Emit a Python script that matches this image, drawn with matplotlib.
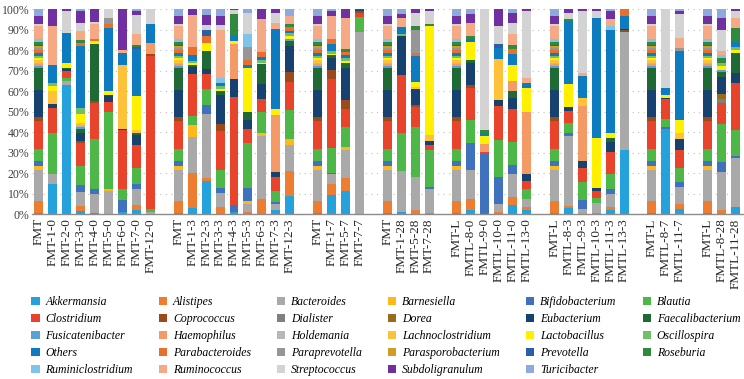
import matplotlib.pyplot as plt
import numpy as np
from matplotlib.patches import Patch

plt.rcParams['font.family'] = ['Liberation Serif', 'DejaVu Serif']

genera = ['Akkermansia', 'Alistipes', 'Bacteroides', 'Barnesiella', 'Bifidobacterium', 'Blautia',
          'Clostridium', 'Coprococcus', 'Dialister', 'Dorea', 'Eubacterium', 'Faecalibacterium',
          'Fusicatenibacter', 'Haemophilus', 'Holdemania', 'Lachnoclostridium', 'Lactobacillus',
          'Oscillospira', 'Others', 'Parabacteroides', 'Paraprevotella', 'Parasporobacterium',
          'Prevotella', 'Roseburia', 'Ruminiclostridium', 'Ruminococcus', 'Streptococcus',
          'Subdoligranulum', 'Turicibacter']

colors = ['#25A2DC', '#ED7D31', '#A9A9A9', '#FFB81C', '#3F71BF', '#4DB748',
          '#E8442C', '#9C4A1A', '#7F7F7F', '#9A6B1A', '#17416E', '#1F6A34',
          '#5AA0D6', '#F39A67', '#B8B8B8', '#FEC23A', '#FFF000',
          '#72BF6A', '#0C7BC0', '#E86F2C', '#969696', '#D69B26',
          '#2A5EA8', '#2F8A3E', '#7EC4E8', '#F5A985', '#D3D3D3',
          '#70309F', '#8EAADC']

groups = [
    ['FMT', 'FMT-1-0', 'FMT-2-0', 'FMT-3-0', 'FMT-4-0', 'FMT-5-0', 'FMT-6-0', 'FMT-7-0', 'FMT-12-0'],
    ['FMT', 'FMT-1-3', 'FMT-2-3', 'FMT-3-3', 'FMT-4-3', 'FMT-5-3', 'FMT-6-3', 'FMT-7-3', 'FMT-12-3'],
    ['FMT', 'FMT-1-7', 'FMT-5-7', 'FMT-7-7'],
    ['FMT', 'FMT-1-28', 'FMT-5-28', 'FMT-7-28'],
    ['FMT-L', 'FMTL-8-0', 'FMTL-9-0', 'FMTL-10-0', 'FMTL-11-0', 'FMTL-13-0'],
    ['FMT-L', 'FMTL-8-3', 'FMTL-9-3', 'FMTL-10-3', 'FMTL-11-3', 'FMTL-13-3'],
    ['FMT-L', 'FMTL-8-7', 'FMTL-11-7'],
    ['FMT-L', 'FMTL-8-28', 'FMTL-11-28'],
]

# donor profile (FMT / FMT-L bars), genus order
donor = [0.5, 6, 15, 2, 2.3, 6, 13.5, 2, 0, 0, 13, 11, 1, 1, 0.5, 1.2, 1.2, 1, 1.5, 1.5,
         0.8, 0.8, 0.5, 1.5, 1.5, 6.5, 0.7, 4.3, 3]

# recipient samples, in the order of groups (donor bars left out)
akkermansia = [14.7, 63, 1.5, 0.5, 0, 1, 2.2, 0,
               3, 16.3, 0, 1, 0, 0, 2, 9,
               9.3, 11.5, 0, 1, 0, 0,
               2.2, 0, 0, 4.3, 2, 3, 0, 0, 2, 31.2,
               41.7, 2.3, 0, 3.7]
alistipes = [0, 0, 2.5, 0, 0, 0, 2.1, 0,
             17, 1.6, 3.5, 0, 1, 7.3, 0, 12,
             5.2, 6.3, 0, 0, 2, 0.6,
             5.3, 0, 1, 4, 1.5, 1, 0, 0.5, 1.5, 0,
             0, 2.7, 1.8, 0]
bacteroides = [5, 1.5, 6.5, 9.5, 11.5, 0, 8, 1,
               17.5, 31, 6.5, 0, 3.8, 30.5, 3, 12.8,
               4.8, 13.6, 88.8, 20, 16, 11.8,
               14.3, 0, 4, 11.2, 4, 34, 2.7, 5, 6.2, 57.8,
               0, 8.2, 18.2, 23.5]
barnesiella = [0, 0, 0, 0, 1, 0, 0, 0,
               5.5, 0, 0, 0, 1.6, 1.5, 0, 3.2,
               0, 1.3, 0, 0, 0, 0,
               0, 0, 0, 0, 0, 0, 0, 0, 0, 0,
               0, 0, 0, 0]
bifidobacterium = [0, 0, 3.5, 2, 0, 6, 2.4, 0,
                   0, 4.4, 2.5, 3.5, 6.6, 0, 1, 0,
                   0.8, 0, 0, 0, 0, 0.8,
                   12.8, 29.5, 13, 4.7, 0, 1.5, 4, 0, 2.8, 0,
                   1, 2.3, 5.2, 1]
blautia = [20, 1.5, 9, 24.5, 37.5, 5.5, 8, 1.5,
           4.5, 8, 8.5, 0, 21.6, 10.5, 5.5, 14.4,
           12, 9.9, 7.5, 18.4, 24.8, 18.4,
           11.2, 0, 18, 11.2, 4.8, 5, 8.8, 2.5, 7, 0,
           3.8, 7.1, 17.8, 13]
clostridium = [12, 3.5, 11, 17.5, 5, 28.5, 11, 75,
               20.5, 7.2, 19, 52.5, 7.2, 6, 6.5, 13.6,
               33.5, 8.8, 2, 28.6, 9.6, 2.4,
               15.9, 0.8, 17, 16, 4, 6, 7.1, 3.5, 10.8, 0,
               9.6, 8.6, 10.3, 23]
coprococcus = [0, 0, 1, 1, 0, 0, 0, 0.8,
               0, 0, 3, 0, 0, 0, 0, 4.7,
               4.5, 4.6, 0.8, 0, 0.8, 0,
               1.6, 0, 0, 0, 0, 0, 0, 0, 0, 1,
               0, 0, 0, 0]
dialister = [0, 0, 0, 0, 0, 0, 0, 0,
             0, 0, 0, 0, 0, 0, 0, 0,
             0, 0, 0, 0, 0, 0,
             0, 0, 0, 0, 0, 0, 0, 0, 0, 0,
             0, 0, 1.6, 0]
dorea = [0, 0, 0, 0, 0, 0, 0, 0,
         0, 0, 0, 0, 0, 0, 0, 0,
         0, 0, 0, 0, 0, 0,
         0, 0, 0, 0, 0, 0, 0, 0, 0, 0,
         0, 0, 2.8, 0]
eubacterium = [2, 1, 4, 0, 3, 0.5, 5, 0,
               3, 2.4, 14, 9, 4, 7.5, 2.4, 12.8,
               5.8, 15.3, 0.5, 19.2, 8, 1.6,
               10.4, 0, 3, 5.6, 3.2, 1.8, 3.2, 1.5, 5, 0.5,
               0.6, 5.2, 8, 5]
faecalibacterium = [0, 0.5, 2, 27.5, 0, 0, 0.8, 0,
                    1, 8.7, 2, 0, 4, 9.8, 0, 2.4,
                    1, 2.4, 0, 0, 0, 0,
                    1.6, 0, 0, 3, 0, 0, 0, 0, 1.8, 0,
                    0, 0, 2.4, 9.3]
fusicatenibacter = [0, 0, 1, 0, 0, 0, 0, 0,
                    0, 0, 0, 0, 0, 0, 0, 1,
                    0, 0, 0, 0, 0, 0,
                    0, 0, 0, 0, 0, 0, 0, 0, 0, 0,
                    0, 0, 0.8, 0]
haemophilus = [0, 0, 0, 0, 0, 0, 0, 5.5,
               0, 0, 0, 17, 0, 0, 28, 0,
               0, 0, 0, 0, 0, 0,
               0, 4.2, 0, 5, 30.3, 0, 27, 0, 0, 0,
               0, 0, 0, 0]
holdemania = [0, 0, 1, 0, 0, 0, 0, 0,
              0, 0, 0, 0, 0, 0, 0, 0,
              0, 0, 0, 0, 0, 0,
              0, 0, 0, 0, 0, 0, 0, 0, 0, 0,
              0, 0, 0, 0]
lachnoclostridium = [6.3, 0, 1, 0, 0, 31.5, 1.5, 0,
                     0, 0, 0, 0, 0, 0, 0, 0,
                     0, 0, 0, 0, 1, 3.2,
                     0, 0, 20, 0, 0, 0, 4, 0, 0, 0,
                     0, 3, 0, 0]
lactobacillus = [2.5, 2.5, 4, 1.5, 2, 0, 16.7, 0,
                 1, 4, 1, 1.5, 21.5, 0.5, 3.2, 1.5,
                 0.5, 1.2, 0, 0, 2.5, 53.4,
                 8.7, 3.6, 0, 7.9, 11.9, 11.5, 0, 24.5, 2.7, 0,
                 1.5, 6, 1.8, 1.8]
oscillospira = [1.5, 0, 3, 0, 0, 0, 0, 0,
                1, 0, 1.5, 0, 0, 1.5, 0, 1.5,
                1.5, 1.2, 0, 0.8, 0, 0,
                0, 0, 0, 0, 0, 0, 0, 0, 0, 0,
                0, 0, 1.5, 1.5]
others = [9, 14.5, 30, 0, 31, 5.5, 23, 9.5,
          3, 0, 1.5, 3, 1.7, 1, 39, 1,
          3.5, 1.6, 0, 3.2, 12.5, 0,
          1.6, 1.6, 5, 5.6, 2.3, 30.5, 10.5, 58.5, 50.5, 6.5,
          3.3, 33.7, 0, 2.2]
parabacteroides = [0, 0, 1.5, 1, 2, 0, 0, 0,
                   4, 3.2, 0, 0, 2.3, 2.5, 0, 2,
                   2.5, 1.6, 0, 0, 1.6, 0,
                   0, 0, 0, 2.5, 0, 0, 0, 0, 0, 3,
                   0, 0, 0, 0]
paraprevotella = [0, 0, 0, 0, 3, 0, 0, 0,
                  0, 0, 0, 0, 6.4, 0, 0, 0,
                  0, 0, 0, 0, 11, 0,
                  0, 0, 0, 0, 0, 0, 0, 0, 0, 0,
                  0, 1.6, 0, 0]
parasporobacterium = [0, 0, 0, 0, 0, 0, 0, 0,
                      0, 0, 0, 0, 0, 0, 0, 0,
                      0, 0, 0, 0, 0, 0,
                      0, 0, 0, 0, 0, 0, 0, 0, 0, 0,
                      0, 0, 0, 0]
prevotella = [0, 0, 0, 0, 0, 0, 1, 0,
              0, 3.1, 0, 0, 0, 0, 0, 0,
              0, 0, 0, 0, 0, 0,
              0, 0, 2, 0, 0, 0, 0, 0, 0, 0,
              0, 0, 0, 0]
roseburia = [0, 0, 1.5, 0, 0, 0, 1, 0,
             0, 0, 0, 10.5, 0, 0, 0, 1.5,
             0, 1.6, 0, 0, 2.2, 0.8,
             1.6, 1.6, 0, 1.6, 0, 1, 0, 0, 0, 0,
             0, 0, 2.4, 6.8]
ruminiclostridium = [0, 0, 0, 0, 0, 0, 0, 0,
                     0, 0, 2, 0, 6.3, 0.8, 0, 0,
                     0, 0, 0, 0, 0, 0,
                     0, 0, 0, 0, 0, 0, 0, 0, 1.5, 0,
                     0, 0, 1.5, 0]
ruminococcus = [19, 0, 4, 7.5, 0, 1.5, 5, 0,
                15.5, 0, 23, 0, 0, 15.5, 3, 4,
                11, 15.1, 0, 4.8, 0, 0,
                6.4, 0, 0, 5.5, 2.4, 0, 1.6, 0, 3.5, 0,
                0, 4.8, 2.2, 5.2]
streptococcus = [0, 11, 4, 1, 4, 0, 9.6, 7,
                 0, 2.5, 2.5, 1.5, 10.4, 0, 4.8, 0,
                 0, 0, 0, 0, 6.4, 6.4,
                 0, 58.7, 9, 5.6, 32.7, 3.2, 30.3, 3.5, 0, 0,
                 38.5, 11.7, 10, 3.2]
subdoligranulum = [8, 0.5, 6, 6, 0, 20, 2, 0,
                   2.5, 5, 4.5, 0.5, 0, 4.5, 1.6, 0,
                   2.5, 4, 0.4, 2, 1.6, 0.8,
                   4, 0, 8, 4.8, 0.8, 1.5, 0.8, 0.8, 4, 0,
                   0, 1.5, 5.5, 0.8]
turicibacter = [0, 0, 0.5, 0, 0, 0, 0.5, 0,
                0, 2.6, 3, 0, 1.6, 0, 0, 3.2,
                0.8, 0, 0, 2, 0, 0,
                2.4, 0, 0, 1.6, 0, 0, 0, 0, 0.8, 0,
                0, 0.5, 4.2, 0]

recipients = np.array([akkermansia, alistipes, bacteroides, barnesiella, bifidobacterium, blautia,
                       clostridium, coprococcus, dialister, dorea, eubacterium, faecalibacterium,
                       fusicatenibacter, haemophilus, holdemania, lachnoclostridium, lactobacillus,
                       oscillospira, others, parabacteroides, paraprevotella, parasporobacterium,
                       prevotella, roseburia, ruminiclostridium, ruminococcus, streptococcus,
                       subdoligranulum, turicibacter], dtype=float)

# assemble bars: donor bar first in each group, one empty slot between groups
positions, labels, columns = [], [], []
slot = 0
k = 0
for group in groups:
    for j, name in enumerate(group):
        positions.append(slot)
        labels.append(name)
        if j == 0:
            columns.append(np.array(donor, dtype=float))
        else:
            columns.append(recipients[:, k])
            k += 1
        slot += 1
    slot += 1
data = np.array(columns).T
data = data / data.sum(axis=0) * 100  # 100% stacked
positions = np.array(positions)

fig = plt.figure(figsize=(7.44, 3.79), dpi=100)
ax = fig.add_axes([0.043, 0.435, 0.955, 0.540])

bottom = np.zeros(len(positions))
for i, genus in enumerate(genera):
    ax.bar(positions, data[i], bottom=bottom, width=0.64, color=colors[i], linewidth=0, zorder=2)
    bottom += data[i]

ax.set_xlim(-0.5, slot - 1.5)
ax.set_ylim(0, 100)
ax.set_yticks(np.arange(0, 101, 10))
ax.set_yticklabels([f'{v}%' for v in range(0, 101, 10)], fontsize=8.5, color='#404040')
ax.set_xticks(positions)
ax.set_xticklabels(labels, rotation=90, fontsize=9.5, color='#262626')
ax.tick_params(axis='x', length=0, pad=3)
ax.tick_params(axis='y', length=0, pad=2)
ax.grid(axis='y', color='#BFBFBF', linestyle=(0, (1, 4)), linewidth=0.8, zorder=0)
for side in ['top', 'right', 'left']:
    ax.spines[side].set_visible(False)
ax.spines['bottom'].set_color('#8C8C8C')
ax.spines['bottom'].set_linewidth(1.0)

# legend filled row by row, 6 columns
ncol = 6
order = [r * ncol + c for c in range(ncol) for r in range(5) if r * ncol + c < len(genera)]
handles = [Patch(facecolor=colors[i], edgecolor='none') for i in order]
names = [genera[i] for i in order]
fig.legend(handles, names, loc='upper left', bbox_to_anchor=(0.042, 0.218), ncol=ncol,
           frameon=False, prop={'style': 'italic', 'size': 8.5}, handlelength=0.7, handleheight=0.7,
           handletextpad=0.5, columnspacing=2.2, labelspacing=0.42, borderpad=0, borderaxespad=0)

fig.savefig('out.png', dpi=100)
